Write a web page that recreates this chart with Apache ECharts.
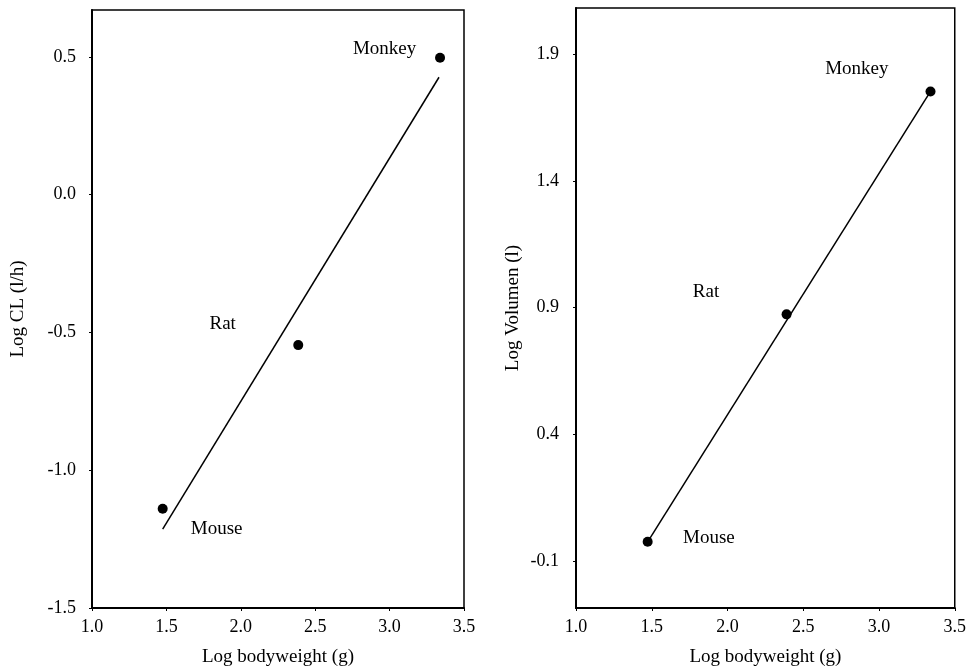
<!DOCTYPE html>
<html>
<head>
<meta charset="utf-8">
<script src="https://cdn.jsdelivr.net/npm/echarts@6/dist/echarts.min.js"></script>
<style>
html,body{margin:0;padding:0;background:#fff;}
#c{width:969px;height:672px;}
</style>
</head>
<body>
<div id="c"></div>
<script>
// ---- data ----
const species = ['Mouse', 'Rat', 'Monkey'];
const logBodyweight = [1.475, 2.386, 3.339];
const logCL = [-1.14, -0.546, 0.497];
const logBodyweightV = [1.473, 2.39, 3.34];
const logVolumen = [-0.023, 0.874, 1.753];
// fitted lines (end points)
const clLineX = [1.475, 3.332];
const clLineY = [-1.214, 0.426];
const volLineX = [1.473, 3.34];
const volLineY = [-0.023, 1.753];
// label anchors (data coordinates)
const clLabelX = [1.838, 1.878, 2.966];
const clLabelY = [-1.214, -0.471, 0.529];
const volLabelX = [1.877, 1.858, 2.854];
const volLabelY = [-0.008, 0.961, 1.842];
// axis ticks
const xTicks = [1.0, 1.5, 2.0, 2.5, 3.0, 3.5];
const clTicks = [-1.5, -1.0, -0.5, 0.0, 0.5];
const volTicks = [-0.1, 0.4, 0.9, 1.4, 1.9];

const FONT = 'Liberation Serif';
const fmt = v => Number(v).toFixed(1);

function xAxis(gi) {
  return {
    gridIndex: gi, type: 'value', min: 1.0, max: 3.5,
    name: 'Log bodyweight (g)', nameLocation: 'middle', nameGap: 40,
    nameTextStyle: {fontFamily: FONT, fontSize: 19, color: '#000'},
    axisLine: {show: true, onZero: false, lineStyle: {color: '#000', width: 2}},
    axisTick: {show: true, length: 3, customValues: xTicks, lineStyle: {color: '#000'}},
    axisLabel: {customValues: xTicks, formatter: fmt, fontFamily: FONT, fontSize: 18, color: '#000', margin: 10},
    splitLine: {show: false}
  };
}
function yAxis(gi, min, max, ticks, name, gap, lblMargin) {
  return {
    gridIndex: gi, type: 'value', min: min, max: max,
    name: name, nameLocation: 'middle', nameGap: gap, nameRotate: 90,
    nameTextStyle: {fontFamily: FONT, fontSize: 19, color: '#000'},
    axisLine: {show: true, onZero: false, lineStyle: {color: '#000', width: 2}},
    axisTick: {show: true, length: 3, customValues: ticks, lineStyle: {color: '#000'}},
    axisLabel: {customValues: ticks, formatter: fmt, fontFamily: FONT, fontSize: 18, color: '#000', margin: lblMargin},
    splitLine: {show: false}
  };
}
const zip = (a, b) => a.map((v, i) => [v, b[i]]);
const labelData = (xs, ys) => xs.map((v, i) => ({name: species[i], value: [v, ys[i]]}));
const textLabel = {show: true, position: 'inside', formatter: '{b}', fontFamily: FONT, fontSize: 19, color: '#000', opacity: 1};

const chart = echarts.init(document.getElementById('c'), null, {renderer: 'canvas'});
chart.setOption({
  backgroundColor: '#fff',
  animation: false,
  grid: [
    {left: 92, top: 10, width: 372, height: 599, show: true, borderColor: '#000', borderWidth: 1.5, backgroundColor: 'transparent'},
    {left: 576, top: 8, width: 379, height: 601, show: true, borderColor: '#000', borderWidth: 1.5, backgroundColor: 'transparent'}
  ],
  xAxis: [xAxis(0), xAxis(1)],
  yAxis: [
    yAxis(0, -1.5, 0.67, clTicks, 'Log CL (l/h)', 64, 16),
    yAxis(1, -0.284, 2.082, volTicks, 'Log Volumen (l)', 53, 17)
  ],
  series: [
    {type: 'line', xAxisIndex: 0, yAxisIndex: 0, data: zip(clLineX, clLineY), symbol: 'none',
     lineStyle: {color: '#000', width: 1.5}, silent: true},
    {type: 'scatter', xAxisIndex: 0, yAxisIndex: 0, data: zip(logBodyweight, logCL), symbolSize: 10,
     itemStyle: {color: '#000', opacity: 1}},
    {type: 'scatter', xAxisIndex: 0, yAxisIndex: 0, data: labelData(clLabelX, clLabelY), symbolSize: 0,
     itemStyle: {opacity: 1}, label: textLabel},
    {type: 'line', xAxisIndex: 1, yAxisIndex: 1, data: zip(volLineX, volLineY), symbol: 'none',
     lineStyle: {color: '#000', width: 1.5}, silent: true},
    {type: 'scatter', xAxisIndex: 1, yAxisIndex: 1, data: zip(logBodyweightV, logVolumen), symbolSize: 10,
     itemStyle: {color: '#000', opacity: 1}},
    {type: 'scatter', xAxisIndex: 1, yAxisIndex: 1, data: labelData(volLabelX, volLabelY), symbolSize: 0,
     itemStyle: {opacity: 1}, label: textLabel}
  ]
});
</script>
</body>
</html>
